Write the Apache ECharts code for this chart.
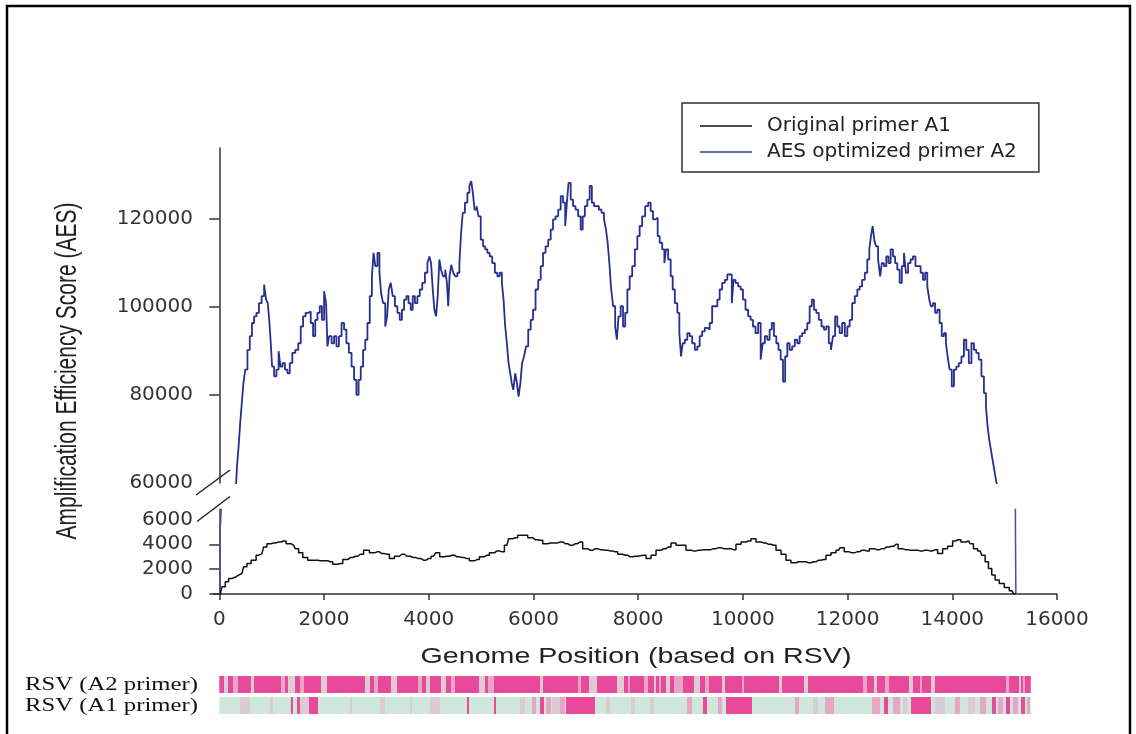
<!DOCTYPE html>
<html><head><meta charset="utf-8">
<script src="https://cdn.jsdelivr.net/npm/echarts@6/dist/echarts.min.js"></script>
<style>html,body{margin:0;padding:0;background:#fff}#c{width:1136px;height:734px}</style>
</head><body><div id="c"></div>
<script>
// ---- data ----
const xTicks = [0, 2000, 4000, 6000, 8000, 10000, 12000, 14000, 16000];
const upperLabels = [60000, 80000, 100000, 120000];
const upperTickMarks = [80000, 100000, 120000];
const lowerLabels = [0, 2000, 4000, 6000];
const lowerTickMarks = [0, 2000, 4000];
const seriesNames = ['Original primer A1', 'AES optimized primer A2'];
const stripRows = ['RSV (A2 primer)', 'RSV (A1 primer)'];

// AES optimized primer A2 (genome position / score)
const a2Pos = [
  12, 14, 44, 46, 318, 325, 350, 388, 414, 446,
  477, 516, 560, 605, 643, 687, 732, 783, 834, 878,
  910, 942, 974, 993, 1025, 1070, 1114, 1152, 1184, 1229,
  1280, 1324, 1369, 1420, 1483, 1534, 1578, 1623, 1674, 1725,
  1769, 1814, 1852, 1897, 1941, 1980, 2024, 2056, 2075, 2120,
  2171, 2215, 2260, 2310, 2361, 2406, 2450, 2501, 2552, 2597,
  2641, 2680, 2724, 2769, 2807, 2852, 2896, 2934, 2960, 2998,
  3043, 3075, 3106, 3151, 3189, 3221, 3253, 3297, 3329, 3380,
  3424, 3469, 3507, 3552, 3596, 3634, 3679, 3711, 3762, 3806,
  3851, 3902, 3953, 3997, 4029, 4061, 4093, 4124, 4156, 4188,
  4220, 4252, 4296, 4335, 4360, 4385, 4411, 4449, 4487, 4525,
  4570, 4602, 4634, 4666, 4716, 4761, 4793, 4831, 4856, 4895,
  4933, 4971, 5016, 5060, 5099, 5143, 5188, 5238, 5289, 5334,
  5378, 5417, 5442, 5480, 5506, 5544, 5570, 5601, 5633, 5671,
  5697, 5735, 5767, 5799, 5843, 5875, 5926, 5970, 6015, 6066,
  6117, 6161, 6206, 6257, 6308, 6352, 6397, 6448, 6499, 6543,
  6588, 6626, 6652, 6690, 6734, 6779, 6830, 6880, 6925, 6957,
  7008, 7052, 7097, 7135, 7180, 7224, 7275, 7326, 7370, 7402,
  7434, 7466, 7504, 7542, 7581, 7606, 7644, 7689, 7734, 7772,
  7816, 7861, 7912, 7962, 8007, 8051, 8103, 8166, 8217, 8262,
  8306, 8357, 8389, 8434, 8485, 8516, 8548, 8599, 8644, 8676,
  8726, 8771, 8803, 8835, 8866, 8917, 8962, 9007, 9057, 9108,
  9153, 9197, 9248, 9299, 9344, 9388, 9439, 9490, 9535, 9579,
  9630, 9681, 9726, 9770, 9808, 9834, 9885, 9936, 9980, 10025,
  10076, 10127, 10171, 10216, 10267, 10318, 10362, 10394, 10445, 10489,
  10534, 10572, 10617, 10661, 10700, 10744, 10789, 10827, 10871, 10916,
  10967, 11018, 11062, 11107, 11158, 11209, 11253, 11298, 11336, 11380,
  11425, 11476, 11527, 11572, 11616, 11667, 11699, 11743, 11782, 11826,
  11871, 11922, 11973, 12017, 12062, 12113, 12164, 12208, 12253, 12303,
  12354, 12399, 12431, 12463, 12495, 12526, 12558, 12609, 12635, 12673,
  12717, 12762, 12800, 12845, 12889, 12927, 12972, 13017, 13055, 13099,
  13131, 13182, 13226, 13271, 13322, 13373, 13417, 13462, 13500, 13545,
  13576, 13608, 13653, 13691, 13736, 13780, 13818, 13863, 13895, 13927,
  13971, 14009, 14054, 14099, 14149, 14200, 14245, 14290, 14341, 14391,
  14436, 14480, 14531, 14582, 14627, 14659, 14690, 14722, 14754, 14786,
  14818, 14862, 14870, 15205, 15209, 15213, 15216
];
const a2Score = [
  0, 4700, 4700, 7500, 59000, 60000, 63700, 68300, 73900, 78100,
  82700, 85700, 90200, 93300, 96300, 97800, 98600, 100800, 102400, 105000,
  101600, 100800, 96300, 91700, 86400, 84200, 85700, 89900, 86400, 87200,
  85700, 84900, 87200, 89500, 90200, 91700, 95500, 97800, 98600, 98900,
  96300, 93300, 97000, 98600, 100100, 97000, 103500, 100800, 91000, 93300,
  91700, 93300, 91000, 93300, 96300, 94800, 91700, 89500, 86400, 83400,
  80000, 83400, 86400, 90200, 92500, 96300, 102400, 106900, 112200, 109200,
  112200, 107700, 103100, 100800, 95500, 97800, 103900, 105400, 102400, 100100,
  98600, 97000, 99300, 101600, 102400, 100800, 99300, 102400, 100800, 102400,
  103900, 105400, 107700, 109900, 111400, 109900, 103900, 99300, 97800, 102400,
  110700, 108400, 106900, 108400, 105400, 100100, 106900, 109500, 107700, 106900,
  107700, 109900, 116700, 121300, 123600, 125800, 127400, 128500, 125800, 122000,
  122800, 120500, 115200, 113700, 113000, 112200, 111400, 109900, 107700, 106900,
  107700, 105400, 101600, 95500, 91700, 87200, 84900, 82700, 81100, 84900,
  82700, 79600, 82700, 87200, 88700, 91000, 94800, 97000, 99300, 103900,
  106100, 109200, 112200, 113700, 115200, 117500, 119800, 120500, 122000, 125100,
  123600, 118300, 123600, 128100, 124300, 122800, 122000, 120500, 117500, 120500,
  122800, 124300, 127400, 123600, 122800, 122800, 122000, 121300, 119800, 117500,
  114500, 109900, 103900, 100100, 95500, 92500, 97800, 100100, 95500, 98600,
  103900, 106900, 109200, 113000, 116000, 118300, 120500, 122800, 123600, 121700,
  119800, 120200, 116000, 114500, 113000, 109900, 113000, 110700, 106900, 103900,
  100800, 98600, 94000, 88700, 91700, 92500, 94000, 93300, 91700, 90200,
  91000, 93300, 94400, 95200, 94800, 96300, 100100, 100100, 101600, 103900,
  105400, 106100, 107300, 107300, 100800, 106100, 105400, 104600, 103900, 101600,
  99300, 97800, 97000, 95500, 94000, 96300, 88000, 91700, 93300, 92500,
  94800, 96300, 93300, 91700, 90200, 88000, 83000, 88700, 91700, 90200,
  91000, 92500, 91700, 93300, 94000, 94800, 96300, 100100, 101600, 99300,
  98600, 97000, 95500, 94800, 95500, 91700, 90200, 93300, 97800, 95500,
  94000, 96300, 93300, 95500, 97000, 100800, 102400, 103900, 104600, 106100,
  107700, 110700, 113000, 116000, 118300, 115200, 113700, 110700, 106900, 109900,
  109200, 111400, 109900, 113000, 111400, 109900, 108400, 105400, 109200, 112200,
  107700, 109900, 110700, 111400, 109200, 109200, 107700, 106100, 107700, 104600,
  101600, 100100, 100800, 98600, 99300, 96300, 93300, 94000, 91700, 88700,
  85700, 81900, 85700, 86400, 87200, 88700, 92500, 90200, 87200, 91700,
  90200, 89500, 88000, 84200, 80400, 77400, 72800, 69800, 67500, 65200,
  63000, 60300, 59000, 7500, 4700, 4700, 0
];

// Original primer A1 (genome position / score)
const a1Pos = [
  19, 83, 146, 210, 274, 369, 433, 497, 560, 656,
  751, 815, 878, 942, 1037, 1133, 1228, 1324, 1419, 1483,
  1547, 1642, 1737, 1833, 1928, 2024, 2119, 2215, 2310, 2406,
  2501, 2597, 2692, 2820, 2915, 3011, 3106, 3202, 3297, 3393,
  3488, 3584, 3711, 3806, 3902, 3997, 4093, 4169, 4252, 4347,
  4443, 4538, 4634, 4729, 4825, 4920, 5016, 5111, 5207, 5302,
  5398, 5493, 5557, 5652, 5748, 5843, 5939, 6034, 6130, 6225,
  6320, 6416, 6511, 6607, 6702, 6798, 6893, 6989, 7084, 7180,
  7275, 7371, 7466, 7562, 7657, 7752, 7848, 7943, 8039, 8103,
  8198, 8294, 8389, 8485, 8580, 8676, 8771, 8866, 8962, 9057,
  9153, 9248, 9344, 9439, 9535, 9630, 9726, 9821, 9917, 10012,
  10108, 10203, 10299, 10394, 10490, 10585, 10681, 10776, 10871, 10967,
  11062, 11158, 11253, 11349, 11444, 11540, 11635, 11731, 11826, 11890,
  11985, 12081, 12176, 12272, 12367, 12463, 12558, 12654, 12749, 12845,
  12927, 13004, 13099, 13195, 13290, 13386, 13481, 13577, 13672, 13768,
  13863, 13959, 14054, 14118, 14213, 14309, 14372, 14436, 14531, 14595,
  14659, 14722, 14786, 14850, 14945, 15041, 15136, 15212
];
const a1Score = [
  0, 590, 990, 1250, 1390, 1520, 1650, 2190, 2450, 2720,
  3120, 3250, 3790, 4050, 4110, 4190, 4270, 4050, 3920, 3650,
  3310, 2930, 2720, 2720, 2670, 2670, 2590, 2400, 2450, 2770,
  2930, 3040, 3200, 3520, 3310, 3390, 3250, 3200, 2850, 3040,
  3200, 3040, 2930, 2850, 2720, 2850, 3040, 3310, 2990, 3040,
  3120, 2990, 2930, 2850, 2670, 2770, 2990, 3120, 3310, 3470,
  3390, 3920, 4450, 4530, 4720, 4720, 4530, 4370, 4320, 4050,
  4110, 4110, 4190, 4050, 3920, 4050, 4190, 3650, 3520, 3650,
  3570, 3520, 3470, 3390, 3200, 3120, 2990, 3040, 3080, 3120,
  2850, 3120, 3520, 3650, 3790, 4110, 3920, 3920, 3520, 3470,
  3520, 3570, 3570, 3650, 3730, 3650, 3650, 3570, 4000, 4190,
  4270, 4450, 4190, 4110, 4000, 3920, 3520, 3200, 2720, 2510,
  2590, 2590, 2510, 2590, 2720, 2770, 3120, 3310, 3520, 3730,
  3390, 3310, 3390, 3520, 3470, 3650, 3570, 3650, 3790, 3840,
  4000, 3650, 3570, 3520, 3520, 3470, 3520, 3470, 3570, 3250,
  3650, 3840, 4270, 4370, 4190, 4270, 4050, 3650, 3470, 3120,
  2590, 2050, 1520, 1120, 850, 530, 270, 0
];

// Genome strips: [start, end, level]; level 0 mint .. 3 strong pink
const levelColors = ['#cfe6da', '#dccbd2', '#e8a6c7', '#e8499a'];
const a2Strip = [
  [0, 15500, 3],
  [90, 166, 1], [262, 357, 2], [605, 663, 1], [1178, 1255, 2], [1312, 1446, 1],
  [1541, 1618, 2], [1943, 2058, 1], [2783, 2879, 1], [2955, 3031, 2], [3280, 3394, 1],
  [3795, 3871, 2], [3948, 4024, 1], [4234, 4330, 1], [4425, 4502, 2], [4960, 5075, 1],
  [5132, 5247, 2], [6125, 6183, 1], [6851, 6909, 2], [7062, 7215, 1], [7596, 7730, 1],
  [7806, 7844, 2], [8112, 8188, 2], [8303, 8341, 1], [8398, 8437, 2], [8532, 8609, 1],
  [8685, 8857, 2], [9067, 9181, 1], [9277, 9353, 2], [9602, 9659, 1], [9984, 10022, 2],
  [10691, 10748, 1], [11168, 11244, 1], [12295, 12371, 2], [12504, 12562, 1], [12715, 12791, 2],
  [13173, 13249, 1], [13383, 13421, 2], [13593, 13669, 1], [15025, 15083, 2], [15274, 15312, 1],
  [15350, 15388, 2]
];
const a1Strip = [
  [0, 15500, 0],
  [395, 586, 1], [968, 1026, 1], [1368, 1407, 3], [1484, 1541, 3], [1541, 1713, 1],
  [1713, 1885, 3], [2496, 2535, 1], [3070, 3166, 1], [3643, 3681, 1], [4024, 4215, 1],
  [4731, 4769, 3], [5247, 5285, 3], [5743, 5838, 1], [5972, 6049, 2], [6125, 6202, 3],
  [6240, 6335, 2], [6354, 6507, 1], [6507, 6603, 2], [6622, 7176, 3], [7386, 7462, 1],
  [7863, 7940, 1], [8226, 8303, 1], [8933, 9028, 2], [9238, 9315, 3], [9525, 9602, 2],
  [9678, 10175, 3], [10996, 11072, 2], [11340, 11435, 1], [11569, 11741, 2], [12467, 12620, 2],
  [12696, 12773, 3], [12868, 13002, 2], [13059, 13135, 1], [13211, 13593, 3], [13669, 13860, 1],
  [14051, 14147, 2], [14300, 14434, 1], [14529, 14643, 2], [14758, 14834, 3], [14872, 14968, 2],
  [15025, 15102, 3], [15159, 15255, 2], [15312, 15388, 3], [15426, 15484, 2]
];

// ---- build ----
const zip = (xs, ys) => xs.map((x, i) => [x, ys[i]]);
const a2Data = zip(a2Pos, a2Score);
const a1Data = zip(a1Pos, a1Score);
const stripData = [];
a2Strip.forEach(s => stripData.push([0, s[0], s[1], s[2]]));
a1Strip.forEach(s => stripData.push([1, s[0], s[1], s[2]]));

const AX = '#333';
const plain = v => String(v);
const labelFont = { fontFamily: 'DejaVu Sans', fontSize: 20, color: '#333', formatter: plain };
const X_MIN = -120, X_MAX = 16000;
const blue = '#272f8f';
const lineIcon = 'path://M0,0 H60 V2 H0 Z';

function renderStrip(params, api) {
  const row = api.value(0);
  const a = api.coord([api.value(1), row]);
  const b = api.coord([api.value(2), row + 1]);
  const top = Math.min(a[1], b[1]);
  const h = Math.abs(b[1] - a[1]);
  const gap = 2;
  return {
    type: 'rect',
    shape: { x: a[0], y: row === 0 ? top : top + gap, width: Math.max(b[0] - a[0], 1), height: h - gap },
    style: { fill: levelColors[api.value(3)] }
  };
}

const chart = echarts.init(document.getElementById('c'), null, { renderer: 'canvas', width: 1136, height: 734 });
chart.setOption({
  animation: false,
  backgroundColor: '#fff',
  textStyle: { fontFamily: 'DejaVu Sans' },
  grid: [
    { left: 213, width: 844, top: 148, height: 335 },
    { left: 213, width: 844, top: 509.5, height: 84.5 },
    { left: 213, width: 844, top: 676, height: 38 }
  ],
  xAxis: [
    { gridIndex: 0, type: 'value', min: X_MIN, max: X_MAX, show: false },
    {
      gridIndex: 1, type: 'value', min: X_MIN, max: X_MAX,
      axisLine: { show: true, onZero: false, lineStyle: { color: AX, width: 1.5 } },
      axisTick: { show: true, length: 6, customValues: xTicks, lineStyle: { color: AX, width: 1.5 } },
      axisLabel: Object.assign({ margin: 16, customValues: xTicks }, labelFont),
      splitLine: { show: false }
    },
    { gridIndex: 2, type: 'value', min: X_MIN, max: X_MAX, show: false }
  ],
  yAxis: [
    {
      gridIndex: 0, type: 'value', min: 60000, max: 136000,
      axisLine: { show: true, lineStyle: { color: AX, width: 1.5 } },
      axisTick: { show: true, length: 10, customValues: upperTickMarks, lineStyle: { color: AX, width: 1.5 } },
      axisLabel: Object.assign({ margin: 20, customValues: upperLabels }, labelFont),
      splitLine: { show: false }
    },
    {
      gridIndex: 1, type: 'value', min: 0, max: 6800,
      axisLine: { show: true, lineStyle: { color: AX, width: 1.5 } },
      axisTick: { show: true, length: 10, customValues: lowerTickMarks, lineStyle: { color: AX, width: 1.5 } },
      axisLabel: Object.assign({ margin: 20, customValues: lowerLabels }, labelFont),
      splitLine: { show: false }
    },
    { gridIndex: 2, type: 'value', min: 0, max: 2, inverse: true, show: false }
  ],
  legend: {
    data: [
      { name: seriesNames[0], icon: lineIcon },
      { name: seriesNames[1], icon: lineIcon }
    ],
    orient: 'vertical',
    left: 682, top: 103,
    padding: [13, 22, 10, 18],
    itemWidth: 52, itemHeight: 20, itemGap: 6,
    borderColor: '#333', borderWidth: 1.5,
    backgroundColor: '#fff',
    selectedMode: false,
    textStyle: { fontFamily: 'DejaVu Sans', fontSize: 20, color: '#222', padding: [0, 0, 0, 10] }
  },
  series: [
    {
      name: seriesNames[1], type: 'line', xAxisIndex: 0, yAxisIndex: 0, data: a2Data,
      showSymbol: false, symbol: 'none', step: 'middle', clip: true,
      lineStyle: { color: blue, width: 1.8 }, itemStyle: { color: '#3b3f95' }, z: 3
    },
    {
      name: seriesNames[0], type: 'line', xAxisIndex: 1, yAxisIndex: 1, data: a1Data,
      showSymbol: false, symbol: 'none', step: 'middle', clip: true,
      lineStyle: { color: '#111', width: 1.5 }, itemStyle: { color: '#111' }, z: 3
    },
    {
      name: seriesNames[1], type: 'line', xAxisIndex: 1, yAxisIndex: 1, data: a2Data,
      showSymbol: false, symbol: 'none', step: 'middle', clip: true,
      lineStyle: { color: '#4a4f9c', width: 1.5 }, itemStyle: { color: '#3b3f95' }, z: 2
    },
    {
      name: 'strips', type: 'custom', xAxisIndex: 2, yAxisIndex: 2,
      data: stripData, encode: { x: [1, 2], y: 0 }, renderItem: renderStrip, silent: true
    }
  ],
  graphic: [
    { type: 'rect', shape: { x: 7, y: 6, width: 1123, height: 760 }, style: { fill: 'none', stroke: '#000', lineWidth: 2.5 }, silent: true, z: 100 },
    { type: 'line', shape: { x1: 196, y1: 495, x2: 230, y2: 470 }, style: { stroke: '#222', lineWidth: 1.5 }, z: 100 },
    { type: 'line', shape: { x1: 197, y1: 521.5, x2: 230, y2: 496.5 }, style: { stroke: '#222', lineWidth: 1.5 }, z: 100 },
    {
      type: 'text', x: 636, y: 657, scaleX: 1.3,
      style: { text: 'Genome Position (based on RSV)', fontFamily: 'Liberation Sans', fontSize: 22, fill: '#222',
        textAlign: 'center', textVerticalAlign: 'middle', align: 'center', verticalAlign: 'middle' }
    },
    {
      type: 'text', x: 68, y: 371, rotation: Math.PI / 2, scaleY: 1.4,
      style: { text: 'Amplification Efficiency Score (AES)', fontFamily: 'Liberation Sans', fontSize: 21, fill: '#222',
        textAlign: 'center', textVerticalAlign: 'middle', align: 'center', verticalAlign: 'middle' }
    },
    {
      type: 'text', x: 25, y: 685, scaleX: 1.3,
      style: { text: stripRows[0], fontFamily: 'Liberation Serif', fontSize: 19, fill: '#111',
        textAlign: 'left', textVerticalAlign: 'middle', align: 'left', verticalAlign: 'middle' }
    },
    {
      type: 'text', x: 25, y: 706, scaleX: 1.3,
      style: { text: stripRows[1], fontFamily: 'Liberation Serif', fontSize: 19, fill: '#111',
        textAlign: 'left', textVerticalAlign: 'middle', align: 'left', verticalAlign: 'middle' }
    }
  ]
});
</script>
</body></html>
